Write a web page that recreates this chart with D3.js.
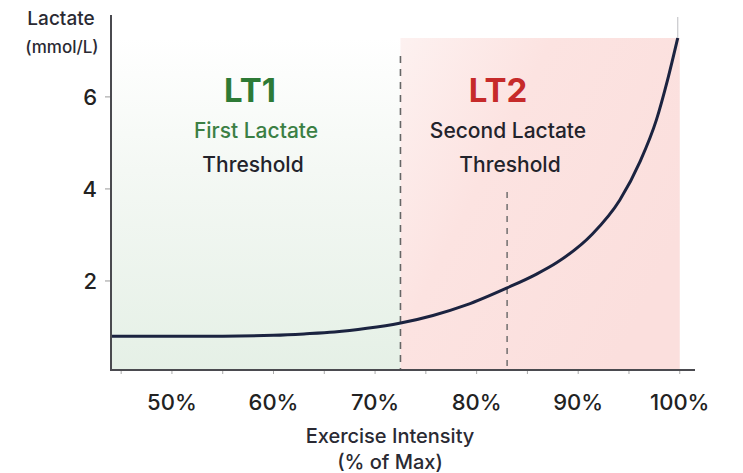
<!DOCTYPE html>
<html>
<head>
<meta charset="utf-8">
<script src="https://cdn.jsdelivr.net/npm/d3@7"></script>
<style>
  body { margin: 0; background: #fff; }
  svg { display: block; font-family: Inter, "Noto Sans", sans-serif; }
</style>
</head>
<body>
<svg width="743" height="473"></svg>
<script>
        // Lactate curve
        var intensity = [44, 50, 55, 60, 63, 66, 69.2, 72.4, 75.7, 79, 83, 85.9, 87.9, 91.4, 94.1, 96.1, 97.7, 98.8, 99.8];
        var lactate   = [0.80, 0.80, 0.80, 0.82, 0.85, 0.89, 0.97, 1.08, 1.25, 1.48, 1.85, 2.15, 2.40, 3.02, 3.76, 4.60, 5.50, 6.37, 7.28];

        // Thresholds and zones
        var lt1 = 72.5;
        var lt2 = 83;
        var zoneTop = 7.28;

        // Tick labels
        var xTicks = [50, 60, 70, 80, 90, 100];
        var xMinorTicks = [45, 50, 55, 60, 65, 70, 75, 80, 85, 90, 95, 100];
        var yTicks = [2, 4, 6];

        var svg = d3.select("svg");

        // Scales
        var xScale = d3.scaleLinear()
                        .domain([44, 101.5])
                        .range([111, 695]);

        var yScale = d3.scaleLinear()
                        .domain([0.065, 7.78])
                        .range([370, 15]);

        // Gradients
        var defs = svg.append("defs");
        var gGreen = defs.append("linearGradient")
            .attr("id", "greenZone")
            .attr("x1", 0).attr("y1", 0).attr("x2", 0).attr("y2", 1);
        gGreen.append("stop").attr("offset", "0%").attr("stop-color", "#ffffff");
        gGreen.append("stop").attr("offset", "40%").attr("stop-color", "#f4f8f4");
        gGreen.append("stop").attr("offset", "100%").attr("stop-color", "#e5f0e6");

        var gRed = defs.append("linearGradient")
            .attr("id", "redZone")
            .attr("x1", 0).attr("y1", 0).attr("x2", 1).attr("y2", 0.6);
        gRed.append("stop").attr("offset", "0%").attr("stop-color", "#fdf1f0");
        gRed.append("stop").attr("offset", "40%").attr("stop-color", "#fce3e1");
        gRed.append("stop").attr("offset", "100%").attr("stop-color", "#fbdfdd");

        // Zones
        svg.append("rect")
            .attr("x", xScale(44))
            .attr("y", yScale(zoneTop))
            .attr("width", xScale(lt1) - xScale(44))
            .attr("height", yScale.range()[0] - yScale(zoneTop))
            .attr("fill", "url(#greenZone)");

        svg.append("rect")
            .attr("x", xScale(lt1))
            .attr("y", yScale(zoneTop))
            .attr("width", xScale(100) - xScale(lt1))
            .attr("height", yScale.range()[0] - yScale(zoneTop))
            .attr("fill", "url(#redZone)");

        // Dashed threshold lines
        svg.append("line")
            .attr("x1", xScale(lt1)).attr("x2", xScale(lt1))
            .attr("y1", 56).attr("y2", 370)
            .attr("stroke", "#666").attr("stroke-width", 1.6)
            .attr("stroke-dasharray", "7,6");

        svg.append("line")
            .attr("x1", xScale(lt2)).attr("x2", xScale(lt2))
            .attr("y1", 192).attr("y2", 370)
            .attr("stroke", "#666").attr("stroke-width", 1.4)
            .attr("stroke-dasharray", "6,6");

        // X axis minor ticks
        svg.selectAll(".xtick")
            .data(xMinorTicks)
            .enter()
            .append("line")
            .attr("x1", function(d) { return xScale(d); })
            .attr("x2", function(d) { return xScale(d); })
            .attr("y1", 370).attr("y2", 374)
            .attr("stroke", "#aaa").attr("stroke-width", 1);

        // X tick labels
        svg.selectAll(".xlabel")
            .data(xTicks)
            .enter()
            .append("text")
            .attr("x", function(d) { return xScale(d); })
            .attr("y", 410)
            .attr("text-anchor", "middle")
            .attr("font-size", "22px")
            .attr("font-weight", 500)
            .attr("fill", "#222")
            .text(function(d) { return d + "%"; });

        // Y ticks and labels
        svg.selectAll(".ytick")
            .data(yTicks)
            .enter()
            .append("line")
            .attr("x1", 105).attr("x2", 111)
            .attr("y1", function(d) { return yScale(d); })
            .attr("y2", function(d) { return yScale(d); })
            .attr("stroke", "#999").attr("stroke-width", 1);

        svg.selectAll(".ylabel")
            .data(yTicks)
            .enter()
            .append("text")
            .attr("x", 97)
            .attr("y", function(d) { return yScale(d) + 8; })
            .attr("text-anchor", "end")
            .attr("font-size", "22px")
            .attr("font-weight", 500)
            .attr("fill", "#222")
            .text(function(d) { return d; });

        // Lactate curve
        var line = d3.line()
            .x(function(d) { return xScale(d[0]); })
            .y(function(d) { return yScale(d[1]); })
            .curve(d3.curveMonotoneX);

        var lastX = intensity[intensity.length - 1];
        svg.append("line")
            .attr("x1", xScale(lastX)).attr("x2", xScale(lastX))
            .attr("y1", 17).attr("y2", yScale(lactate[lactate.length - 1]))
            .attr("stroke", "#c8c8cc").attr("stroke-width", 1.2);

        svg.append("path")
            .datum(d3.zip(intensity, lactate))
            .attr("d", line)
            .attr("fill", "none")
            .attr("stroke", "#1b2340")
            .attr("stroke-width", 3);

        // Axes
        svg.append("line")
            .attr("x1", 111).attr("x2", 111)
            .attr("y1", 15).attr("y2", 371)
            .attr("stroke", "#4a4a4f").attr("stroke-width", 2);

        svg.append("line")
            .attr("x1", 110).attr("x2", 695)
            .attr("y1", 370).attr("y2", 370)
            .attr("stroke", "#4a4a4f").attr("stroke-width", 2);

        // Axis titles
        svg.append("text")
            .attr("x", 61).attr("y", 25)
            .attr("text-anchor", "middle")
            .attr("font-size", "19px")
            .attr("font-weight", 500)
            .attr("fill", "#2a2a33")
            .text("Lactate");
        svg.append("text")
            .attr("x", 62).attr("y", 53)
            .attr("text-anchor", "middle")
            .attr("font-size", "17px")
            .attr("font-weight", 500)
            .attr("fill", "#2a2a33")
            .text("(mmol/L)");

        svg.append("text")
            .attr("x", 390).attr("y", 443)
            .attr("text-anchor", "middle")
            .attr("font-size", "20px")
            .attr("font-weight", 500)
            .attr("fill", "#2a2a33")
            .text("Exercise Intensity");
        svg.append("text")
            .attr("x", 390).attr("y", 469)
            .attr("text-anchor", "middle")
            .attr("font-size", "20px")
            .attr("font-weight", 500)
            .attr("fill", "#2a2a33")
            .text("(% of Max)");

        // Zone labels
        svg.append("text")
            .attr("x", 250).attr("y", 102)
            .attr("text-anchor", "middle")
            .attr("font-size", "33px").attr("font-weight", "bold")
            .attr("fill", "#2d7a36")
            .text("LT1");
        svg.append("text")
            .attr("x", 256).attr("y", 138)
            .attr("text-anchor", "middle")
            .attr("font-size", "21px")
            .attr("font-weight", 500)
            .attr("fill", "#3b7f44")
            .text("First Lactate");
        svg.append("text")
            .attr("x", 253).attr("y", 172)
            .attr("text-anchor", "middle")
            .attr("font-size", "21px")
            .attr("font-weight", 500)
            .attr("fill", "#23232b")
            .text("Threshold");

        svg.append("text")
            .attr("x", 498).attr("y", 102)
            .attr("text-anchor", "middle")
            .attr("font-size", "33px").attr("font-weight", "bold")
            .attr("fill", "#c62a2a")
            .text("LT2");
        svg.append("text")
            .attr("x", 508).attr("y", 138)
            .attr("text-anchor", "middle")
            .attr("font-size", "21px")
            .attr("font-weight", 500)
            .attr("fill", "#23232b")
            .text("Second Lactate");
        svg.append("text")
            .attr("x", 510).attr("y", 172)
            .attr("text-anchor", "middle")
            .attr("font-size", "21px")
            .attr("font-weight", 500)
            .attr("fill", "#23232b")
            .text("Threshold");
</script>
</body>
</html>
